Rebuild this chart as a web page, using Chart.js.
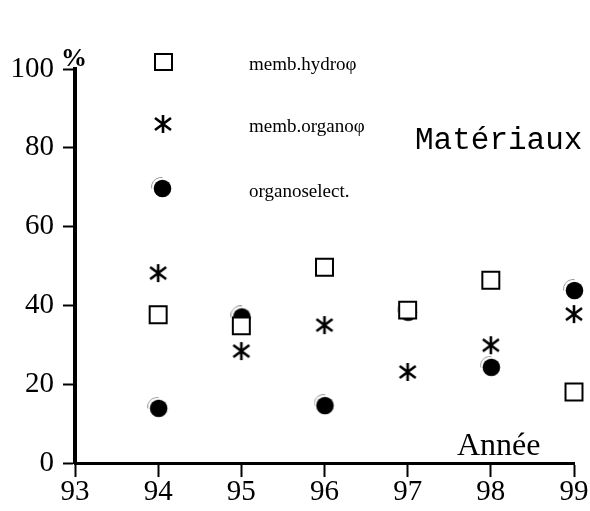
<!DOCTYPE html>
<html>
<head>
<meta charset="utf-8">
<script src="https://cdn.jsdelivr.net/npm/chart.js@4.4.0/dist/chart.umd.min.js"></script>
<style>
  html, body { margin: 0; padding: 0; background: #fff; }
  #wrap { width: 590px; height: 511px; }
</style>
</head>
<body>
<div id="wrap"><canvas id="chart" width="590" height="511"></canvas></div>
<script>
// valeurs
const years = [94, 95, 96, 97, 98, 99];
const hydro = [37.6, 34.8, 49.7, 38.8, 46.4, 18.0];
const organo = [48.2, 28.4, 35.0, 23.1, 29.9, 37.8];
const organoSelect = [14.0, 37.2, 14.7, 38.4, 24.4, 43.9];
const legendLabels = ['memb.hydroφ', 'memb.organoφ', 'organoselect.'];
const xTicks = [93, 94, 95, 96, 97, 98, 99];
const yTicks = [0, 20, 40, 60, 80, 100];

const serif = '"Liberation Serif", "Times New Roman", serif';

// symboles dessinés à la main
function makeStar() {
    const c = document.createElement('canvas');
    c.width = 20; c.height = 20;
    const g = c.getContext('2d');
    g.strokeStyle = '#000';
    g.lineWidth = 2.6;
    g.beginPath();
    g.moveTo(10, 1); g.lineTo(10, 19);
    g.moveTo(2, 4); g.lineTo(18, 16);
    g.moveTo(18, 4); g.lineTo(2, 16);
    g.stroke();
    return c;
}

function makeDot() {
    const c = document.createElement('canvas');
    c.width = 22; c.height = 22;
    const g = c.getContext('2d');
    g.strokeStyle = '#999';
    g.lineWidth = 1;
    g.beginPath();
    g.arc(10, 10, 9.5, Math.PI * 0.95, Math.PI * 1.55);
    g.stroke();
    g.fillStyle = '#000';
    g.beginPath();
    g.arc(11.5, 11.5, 8.8, 0, Math.PI * 2);
    g.fill();
    return c;
}

const starImg = makeStar();
const dotImg = makeDot();

function pts(vals) {
    return years.map((y, i) => ({ x: y, y: vals[i] }));
}

const decorPlugin = {
    id: 'decor',
    afterDraw(chart) {
        const ctx = chart.ctx;
        const xs = chart.scales.x, ys = chart.scales.y;
        ctx.save();
        ctx.fillStyle = '#000';

        // % au sommet de l'axe
        ctx.font = 'bold 26px ' + serif;
        ctx.textAlign = 'center';
        ctx.textBaseline = 'middle';
        ctx.fillText('%', xs.left - 1, ys.top - 10);

        // Année
        ctx.font = '32px ' + serif;
        ctx.textAlign = 'left';
        ctx.textBaseline = 'alphabetic';
        ctx.fillText('Année', 457, 455);

        // Matériaux
        ctx.font = '31px "Liberation Mono", "Courier New", monospace';
        ctx.fillText('Matériaux', 415, 149);

        // légende
        const lx = 163, ly = [62, 124, 189];
        ctx.lineWidth = 2;
        ctx.strokeStyle = '#000';
        ctx.fillStyle = '#fff';
        ctx.fillRect(lx - 8, ly[0] - 8, 17, 16);
        ctx.strokeRect(lx - 8, ly[0] - 8, 17, 16);
        ctx.drawImage(starImg, lx - 10, ly[1] - 10);
        ctx.drawImage(dotImg, lx - 12, ly[2] - 12);

        ctx.fillStyle = '#000';
        ctx.font = '19px ' + serif;
        ctx.textBaseline = 'alphabetic';
        legendLabels.forEach((t, i) => ctx.fillText(t, 249, ly[i] + 8));
        ctx.restore();
    }
};

new Chart(document.getElementById('chart'), {
    type: 'scatter',
    data: {
        datasets: [
            {
                label: legendLabels[0],
                data: pts(hydro),
                pointStyle: 'rect',
                pointRadius: 12,
                pointHoverRadius: 12,
                borderColor: '#000',
                borderWidth: 2,
                backgroundColor: '#fff',
                clip: false,
                order: 0
            },
            {
                label: legendLabels[1],
                data: pts(organo),
                pointStyle: starImg,
                clip: false,
                order: 1
            },
            {
                label: legendLabels[2],
                data: pts(organoSelect),
                pointStyle: dotImg,
                clip: false,
                order: 2
            }
        ]
    },
    options: {
        responsive: false,
        animation: false,
        layout: { padding: { top: 69, right: 16, left: 0, bottom: 0 } },
        plugins: { legend: { display: false }, tooltip: { enabled: false } },
        scales: {
            x: {
                type: 'linear',
                min: xTicks[0],
                max: xTicks[xTicks.length - 1],
                afterBuildTicks: s => { s.ticks = xTicks.map(v => ({ value: v })); },
                afterFit: s => { s.height = 48; },
                border: { display: true, color: '#000', width: 3 },
                grid: { drawOnChartArea: false, drawTicks: true, tickLength: 14, tickColor: '#000', tickWidth: 2 },
                ticks: { color: '#000', font: { family: serif, size: 29 }, padding: -2, maxRotation: 0 }
            },
            y: {
                type: 'linear',
                min: yTicks[0],
                max: yTicks[yTicks.length - 1],
                afterBuildTicks: s => { s.ticks = yTicks.map(v => ({ value: v })); },
                afterFit: s => { s.width = 75; },
                border: { display: true, color: '#000', width: 4 },
                grid: { drawOnChartArea: false, drawTicks: true, tickLength: 12, tickColor: '#000', tickWidth: 2 },
                ticks: { color: '#000', font: { family: serif, size: 29 }, padding: 9 }
            }
        }
    },
    plugins: [decorPlugin]
});
</script>
</body>
</html>
